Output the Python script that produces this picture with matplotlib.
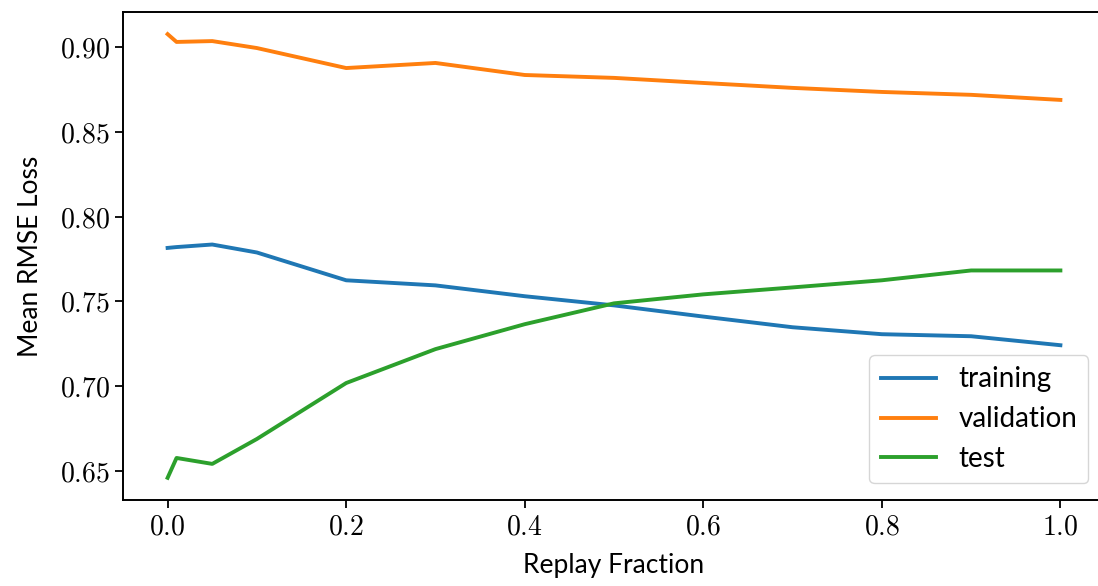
import numpy as np
import matplotlib
matplotlib.use("Agg")
import matplotlib.pyplot as plt
from matplotlib.ticker import FuncFormatter

replay_fraction = [0.0, 0.01, 0.05, 0.1, 0.2, 0.3, 0.4, 0.5, 0.6, 0.7, 0.8, 0.9, 1.0]
training = [0.7815, 0.7820, 0.7835, 0.7788, 0.7624, 0.7594, 0.7530, 0.7476, 0.7410, 0.7347, 0.7306, 0.7294, 0.7241]
validation = [0.9076, 0.9030, 0.9035, 0.8994, 0.8876, 0.8906, 0.8835, 0.8818, 0.8788, 0.8759, 0.8735, 0.8718, 0.8688]
test = [0.6459, 0.6576, 0.6541, 0.6688, 0.7018, 0.7218, 0.7365, 0.7488, 0.7541, 0.7582, 0.7624, 0.7682, 0.7682]

plt.rcParams["mathtext.fontset"] = "cm"
plt.rcParams["font.family"] = ["Lato", "DejaVu Sans"]

fig = plt.figure(figsize=(10.98, 5.86), dpi=100)
# right spine sits just outside the canvas in the reference
ax = fig.add_axes([0.112, 0.1468, 0.8944, 0.8328])

ax.plot(replay_fraction, training, lw=2.8, label="training")
ax.plot(replay_fraction, validation, lw=2.8, label="validation")
ax.plot(replay_fraction, test, lw=2.8, label="test")

ax.xaxis.set_major_formatter(FuncFormatter(lambda v, _: f"${v:.1f}$"))
ax.yaxis.set_major_formatter(FuncFormatter(lambda v, _: f"${v:.2f}$"))
ax.tick_params(labelsize=20, width=1.3, length=6)
for s in ax.spines.values():
    s.set_linewidth(1.4)

ax.set_xlabel("Replay Fraction", fontsize=19, labelpad=10)
ax.set_ylabel("Mean RMSE Loss", fontsize=19, labelpad=12)
ax.legend(loc="lower right", fontsize=20, borderaxespad=0.6)

fig.savefig("out.png", dpi=100)
